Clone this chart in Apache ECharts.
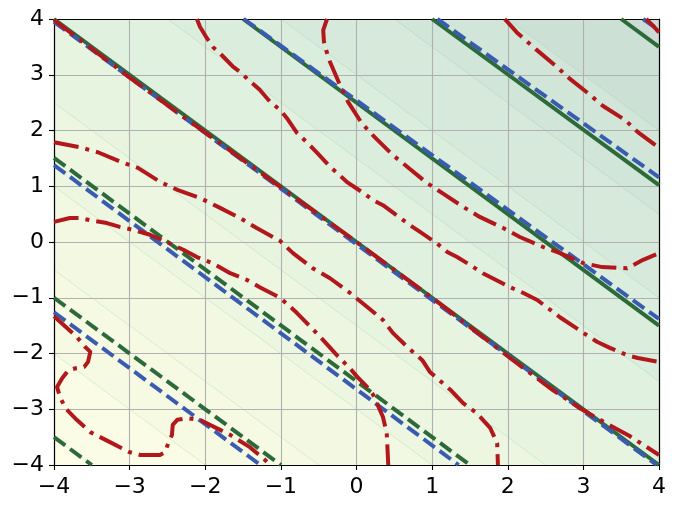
<!DOCTYPE html>
<html><head><meta charset="utf-8">
<script src="https://cdn.jsdelivr.net/npm/echarts@6/dist/echarts.min.js"></script>
<style>html,body{margin:0;padding:0;background:#fff}#c{width:676px;height:509px}</style>
</head><body><div id="c"></div>
<script>
// ---- data ----
const xTicks = [-4, -3, -2, -1, 0, 1, 2, 3, 4];
const yTicks = [-4, -3, -2, -1, 0, 1, 2, 3, 4];
// filled-contour band edges (values of x + y)
const bandEdges = [-7.5, -6, -4.5, -3, -1.5, 0, 1.5, 3, 4.5, 6, 7.5];

const greenSolidLines = [
  [[-4, 4], [4, -4]],
  [[-1.5, 4], [4, -1.5]],
  [[1, 4], [4, 1.02]],
  [[3.5, 4], [4, 3.5]]
];
const greenDashedLines = [
  [[-4, 1.51], [1.5, -4]],
  [[-4, -1.0], [-1, -4]],
  [[-4, -3.5], [-3.5, -4]]
];
const blueLines = [
  [[-4, 3.95], [3.97, -4]],
  [[-1.49, 4], [4, -1.38]],
  [[1.07, 4], [4, 1.16]],
  [[3.79, 4], [4, 3.8]],
  [[-4, 1.38], [1.35, -4]],
  [[-4, -1.26], [-1.27, -4]]
];
const redA = [[-4,3.98],[-3,2.95],[-2,1.96],[-1,0.98],[0,0],[1,-1.0],[2,-2.05],[2.6,-2.66],[3.0,-3.02],[3.3,-3.25],[3.6,-3.47],[4,-3.82]];
const redB = [[-0.39,4],[-0.44,3.80],[-0.43,3.59],[-0.39,3.39],[-0.35,3.23],[-0.22,2.82],[-0.11,2.51],[0.07,2.13],[0.24,1.88],[0.48,1.56],[0.67,1.35],[0.93,1.06],[1.13,0.88],[1.41,0.63],[1.63,0.45],[1.94,0.25],[2.16,0.09],[2.47,-0.09],[2.69,-0.20],[3.0,-0.38],[3.25,-0.45],[3.58,-0.47],[3.79,-0.32],[4.0,-0.20]];
const redC = [[1.96,4],[2.04,3.88],[2.12,3.76],[2.22,3.64],[2.37,3.46],[2.65,3.14],[2.81,2.94],[3.06,2.67],[3.26,2.44],[3.55,2.19],[3.72,1.97],[4.0,1.69]];
const redD = [[3.83,4],[3.92,3.88],[4,3.76]];
const redE = [[-4.0,1.79],[-3.66,1.70],[-3.42,1.61],[-3.10,1.43],[-2.89,1.33],[-2.60,1.08],[-2.36,0.93],[-2.07,0.79],[-1.83,0.63],[-1.54,0.43],[-1.32,0.25],[-1.01,0.02],[-0.84,-0.20],[-0.58,-0.47],[-0.35,-0.65],[-0.09,-0.91],[0.11,-1.13],[0.35,-1.40],[0.48,-1.63],[0.67,-1.88],[0.87,-2.12],[0.97,-2.33],[1.24,-2.65],[1.41,-2.89],[1.59,-3.07],[1.77,-3.34],[1.86,-3.61],[1.87,-4.0]];
const redF = [[-4,0.36],[-3.79,0.43],[-3.66,0.43],[-3.52,0.39],[-3.30,0.34],[-3.13,0.27],[-2.96,0.22],[-2.73,0.13],[-2.51,0.0],[-2.29,-0.14],[-2.11,-0.27],[-1.90,-0.38],[-1.67,-0.56],[-1.45,-0.68],[-1.28,-0.81],[-1.01,-1.0],[-0.79,-1.27],[-0.48,-1.70],[-0.26,-2.03],[-0.09,-2.26],[0.01,-2.42],[0.14,-2.60],[0.22,-2.74],[0.27,-2.89],[0.35,-3.14],[0.40,-3.43],[0.42,-4.0]];
const redG = [[-4,-1.33],[-3.70,-1.70],[-3.59,-1.88],[-3.52,-1.97],[-3.55,-2.15],[-3.60,-2.24],[-3.70,-2.26],[-3.81,-2.30],[-3.89,-2.44],[-3.96,-2.60],[-3.92,-2.78],[-3.85,-2.98],[-3.70,-3.19],[-3.52,-3.41],[-3.26,-3.59],[-3.0,-3.77],[-2.86,-3.82],[-2.60,-3.82],[-2.53,-3.77],[-2.49,-3.61],[-2.44,-3.46],[-2.43,-3.28],[-2.37,-3.19],[-2.24,-3.16],[-2.07,-3.19],[-1.98,-3.25],[-1.67,-3.46],[-1.41,-3.68],[-1.21,-3.91],[-1.14,-4.0]];
const redH = [[-2.11,4.0],[-2.07,3.86],[-1.98,3.66],[-1.90,3.50],[-1.78,3.35],[-1.63,3.14],[-1.54,3.05],[-1.43,2.91],[-1.28,2.73],[-1.14,2.51],[-1.01,2.37],[-0.92,2.22],[-0.79,1.96],[-0.65,1.78],[-0.52,1.60],[-0.35,1.35],[-0.24,1.22],[-0.13,1.08],[0.09,0.88],[0.22,0.75],[0.35,0.66],[0.58,0.43],[0.71,0.30],[0.84,0.18],[1.06,-0.02],[1.20,-0.18],[1.33,-0.27],[1.50,-0.41],[1.67,-0.56],[2.03,-0.81],[2.20,-0.91],[2.39,-1.04],[2.69,-1.35],[3.0,-1.63],[3.18,-1.79],[3.35,-1.90],[3.58,-2.03],[3.72,-2.08],[4.0,-2.15]];
const redCurves = [redA, redB, redC, redD, redE, redF, redG, redH];

// ---- styles ----
const bandColors = ['#fdfde8','#fafce5','#f6fae3','#f2f8e2','#edf6e1','#e7f4e0','#e1f1df','#dbeedd','#d6e9db','#d1e5d8','#cde0d6','#cadcd4'];
const GREEN = '#2c6a3a', BLUE = '#3a5cb0', RED = '#b2181b';
const LW = 4;

function fmt(v) { return v < 0 ? '\u2212' + Math.abs(v) : String(v); }

function clipPoly(poly, f) {
  const out = [];
  for (let i = 0; i < poly.length; i++) {
    const a = poly[i], b = poly[(i + 1) % poly.length];
    const fa = f(a), fb = f(b);
    if (fa >= 0) out.push(a);
    if ((fa >= 0) !== (fb >= 0)) {
      const t = fa / (fa - fb);
      out.push([a[0] + t * (b[0] - a[0]), a[1] + t * (b[1] - a[1])]);
    }
  }
  return out;
}

const x0 = xTicks[0], x1 = xTicks[xTicks.length - 1];
const y0 = yTicks[0], y1 = yTicks[yTicks.length - 1];
const bandData = [];
for (let i = 0; i <= bandEdges.length; i++) {
  const lo = i === 0 ? -100 : bandEdges[i - 1];
  const hi = i === bandEdges.length ? 100 : bandEdges[i];
  bandData.push([lo, hi]);
}

const series = [];
series.push({
  type: 'custom', z: 0, silent: true, clip: true,
  data: bandData,
  renderItem: function (params, api) {
    const lo = api.value(0), hi = api.value(1);
    let poly = [[x0, y0], [x1, y0], [x1, y1], [x0, y1]];
    poly = clipPoly(poly, p => p[0] + p[1] - lo);
    poly = clipPoly(poly, p => hi - (p[0] + p[1]));
    if (poly.length < 3) return;
    const children = [{
      type: 'polygon',
      shape: { points: poly.map(p => api.coord(p)) },
      style: { fill: bandColors[params.dataIndex], stroke: bandColors[params.dataIndex], lineWidth: 0.5 }
    }];
    const edge = poly.filter(p => Math.abs(p[0] + p[1] - lo) < 1e-9);
    if (edge.length === 2) {
      children.push({
        type: 'polyline', shape: { points: edge.map(p => api.coord(p)) },
        style: { stroke: 'rgba(120,195,140,0.22)', lineWidth: 1, fill: null }
      });
    }
    return { type: 'group', children: children };
  }
});

function lineSeries(pts, color, dash, z) {
  return {
    type: 'line', data: pts, z: z, silent: true, symbol: 'none', showSymbol: false,
    animation: false, clip: true,
    lineStyle: { color: color, width: LW, type: dash, cap: 'butt', join: 'round' }
  };
}
greenSolidLines.forEach(l => series.push(lineSeries(l, GREEN, 'solid', 3)));
greenDashedLines.forEach(l => series.push(lineSeries(l, GREEN, [14, 6], 3)));
blueLines.forEach(l => series.push(lineSeries(l, BLUE, [14, 6], 4)));
redCurves.forEach(l => series.push(lineSeries(l, RED, [25, 7, 4, 7], 5)));

const labelStyle = { color: '#000', fontSize: 22, fontFamily: 'DejaVu Sans', formatter: fmt };
const option = {
  animation: false,
  backgroundColor: '#fff',
  grid: { left: 54, right: 17, top: 19, bottom: 44, containLabel: false, outerBoundsMode: 'none' },
  xAxis: [{
    type: 'value', min: x0, max: x1, interval: 1, position: 'bottom', z: 1,
    axisLine: { show: true, onZero: false, lineStyle: { color: '#000', width: 1.2 } },
    axisTick: { show: true, inside: false, length: 5, lineStyle: { color: '#000', width: 1.1 } },
    axisLabel: Object.assign({ margin: 11 }, labelStyle),
    splitLine: { show: true, lineStyle: { color: '#b0b0b0', width: 1.1 } }
  }, {
    type: 'value', min: x0, max: x1, interval: 1, position: 'top', z: 1,
    axisLine: { show: true, onZero: false, lineStyle: { color: '#000', width: 1.2 } },
    axisTick: { show: false }, axisLabel: { show: false }, splitLine: { show: false }
  }],
  yAxis: [{
    type: 'value', min: y0, max: y1, interval: 1, position: 'left', z: 1,
    axisLine: { show: true, onZero: false, lineStyle: { color: '#000', width: 1.2 } },
    axisTick: { show: true, inside: false, length: 5, lineStyle: { color: '#000', width: 1.1 } },
    axisLabel: Object.assign({ margin: 10 }, labelStyle),
    splitLine: { show: true, lineStyle: { color: '#b0b0b0', width: 1.1 } }
  }, {
    type: 'value', min: y0, max: y1, interval: 1, position: 'right', z: 1,
    axisLine: { show: true, onZero: false, lineStyle: { color: '#000', width: 1.2 } },
    axisTick: { show: false }, axisLabel: { show: false }, splitLine: { show: false }
  }],
  series: series
};
const chart = echarts.init(document.getElementById('c'), null, { renderer: 'canvas' });
chart.setOption(option);
</script>
</body></html>
